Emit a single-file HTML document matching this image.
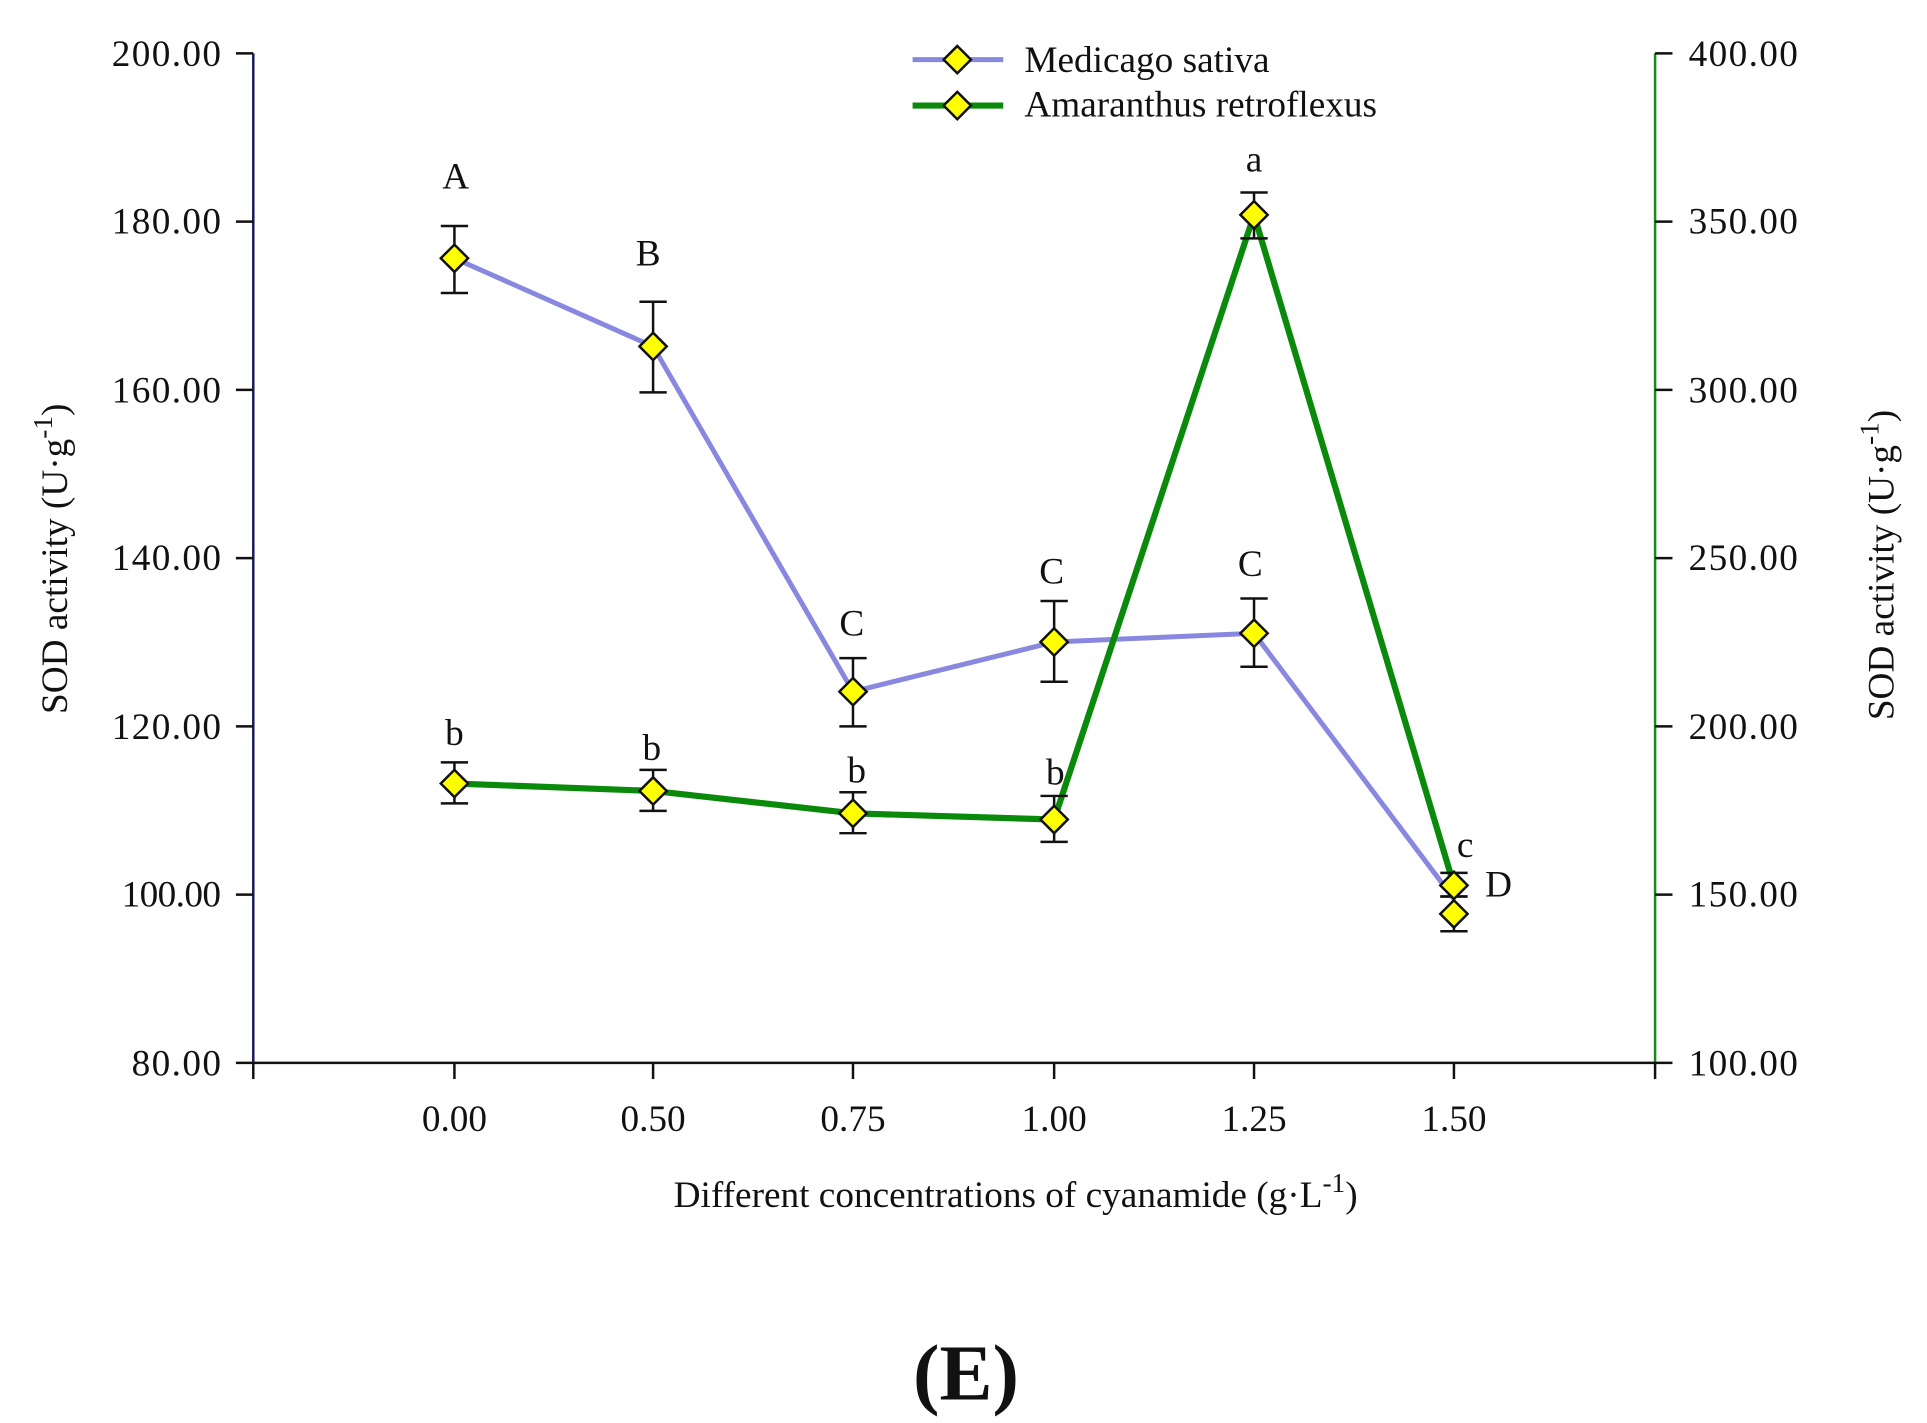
<!DOCTYPE html>
<html><head><meta charset="utf-8"><style>html,body{margin:0;padding:0;background:#fff;}svg{display:block}</style></head>
<body>
<svg width="1927" height="1423" viewBox="0 0 1552 1146" preserveAspectRatio="none" xmlns="http://www.w3.org/2000/svg" font-family="'Liberation Serif', serif" fill="#111">
<defs>
<g id="d"><path d="M0,-11 L11,0 L0,11 L-11,0 Z" fill="#ffff00" stroke="#111" stroke-width="2"/></g>
</defs>
<line x1="204" y1="43" x2="204" y2="857" stroke="#1a1a5a" stroke-width="2"/>
<line x1="1333" y1="43" x2="1333" y2="857" stroke="#1a8a1a" stroke-width="2"/>
<line x1="204" y1="856" x2="1333" y2="856" stroke="#111" stroke-width="2"/>
<g stroke="#111" stroke-width="2">
<line x1="190" y1="43" x2="204" y2="43"/><line x1="190" y1="178.5" x2="204" y2="178.5"/><line x1="190" y1="314" x2="204" y2="314"/><line x1="190" y1="449.5" x2="204" y2="449.5"/><line x1="190" y1="585" x2="204" y2="585"/><line x1="190" y1="720.5" x2="204" y2="720.5"/><line x1="190" y1="856" x2="204" y2="856"/>
<line x1="1333" y1="43" x2="1347" y2="43"/><line x1="1333" y1="178.5" x2="1347" y2="178.5"/><line x1="1333" y1="314" x2="1347" y2="314"/><line x1="1333" y1="449.5" x2="1347" y2="449.5"/><line x1="1333" y1="585" x2="1347" y2="585"/><line x1="1333" y1="720.5" x2="1347" y2="720.5"/><line x1="1333" y1="856" x2="1347" y2="856"/>
<line x1="204" y1="856" x2="204" y2="869"/><line x1="366" y1="856" x2="366" y2="869"/><line x1="526" y1="856" x2="526" y2="869"/><line x1="687" y1="856" x2="687" y2="869"/><line x1="849" y1="856" x2="849" y2="869"/><line x1="1010" y1="856" x2="1010" y2="869"/><line x1="1171" y1="856" x2="1171" y2="869"/><line x1="1333" y1="856" x2="1333" y2="869"/>
</g>
<g font-size="30" text-anchor="end">
<text x="178" y="53" textLength="88">200.00</text><text x="178" y="188" textLength="88">180.00</text><text x="178" y="324" textLength="88">160.00</text><text x="178" y="459" textLength="88">140.00</text><text x="178" y="595" textLength="88">120.00</text><text x="178" y="730" textLength="80">100.00</text><text x="178" y="866" textLength="72">80.00</text>
</g>
<g font-size="30">
<text x="1360" y="53" textLength="88">400.00</text><text x="1360" y="188" textLength="88">350.00</text><text x="1360" y="324" textLength="88">300.00</text><text x="1360" y="459" textLength="88">250.00</text><text x="1360" y="595" textLength="88">200.00</text><text x="1360" y="730" textLength="88">150.00</text><text x="1360" y="866" textLength="88">100.00</text>
</g>
<g font-size="30" text-anchor="middle">
<text x="366" y="911">0.00</text><text x="526" y="911">0.50</text><text x="687" y="911">0.75</text><text x="849" y="911">1.00</text><text x="1010" y="911">1.25</text><text x="1171" y="911">1.50</text>
</g>
<text x="818" y="972" font-size="30" text-anchor="middle">Different concentrations of cyanamide (g·L<tspan dy="-12" font-size="22">-1</tspan><tspan dy="12">)</tspan></text>
<text transform="translate(54,450) rotate(-90)" font-size="30" text-anchor="middle">SOD activity (U·g<tspan dy="-12" font-size="22">-1</tspan><tspan dy="12">)</tspan></text>
<text transform="translate(1525,455) rotate(-90)" font-size="30" text-anchor="middle">SOD activity (U·g<tspan dy="-12" font-size="22">-1</tspan><tspan dy="12">)</tspan></text>
<text x="778" y="1127" font-size="64" font-weight="bold" text-anchor="middle">(E)</text>
<line x1="735" y1="48" x2="808" y2="48" stroke="#8888dd" stroke-width="4"/><use href="#d" x="771" y="48"/>
<text x="825" y="58" font-size="30">Medicago sativa</text>
<line x1="735" y1="85" x2="808" y2="85" stroke="#0a8a0a" stroke-width="5"/><use href="#d" x="771" y="85"/>
<text x="825" y="94" font-size="30">Amaranthus retroflexus</text>
<polyline points="366,208 526,279 687,557 849,517 1010,510 1171,724" fill="none" stroke="#8888e0" stroke-width="4"/>
<polyline points="366,631 526,637 687,655 849,660 1010,173 1171,713" fill="none" stroke="#0a8a0a" stroke-width="5"/>
<g stroke="#111" stroke-width="2" fill="none">
<path d="M366,182V236M355,182H377M355,236H377"/>
<path d="M526,243V316M515,243H537M515,316H537"/>
<path d="M687,530V585M676,530H698M676,585H698"/>
<path d="M849,484V549M838,484H860M838,549H860"/>
<path d="M1010,482V537M999,482H1021M999,537H1021"/>
<path d="M1171,722V750M1160,722H1182M1160,750H1182"/>
<path d="M366,614V647M355,614H377M355,647H377"/>
<path d="M526,620V653M515,620H537M515,653H537"/>
<path d="M687,638V671M676,638H698M676,671H698"/>
<path d="M849,641V678M838,641H860M838,678H860"/>
<path d="M1010,155V192M999,155H1021M999,192H1021"/>
<path d="M1171,703V722M1160,703H1182M1160,722H1182"/>
</g>
<use href="#d" x="366" y="208"/><use href="#d" x="526" y="279"/><use href="#d" x="687" y="557"/><use href="#d" x="849" y="517"/><use href="#d" x="1010" y="510"/><use href="#d" x="1171" y="736"/>
<use href="#d" x="366" y="631"/><use href="#d" x="526" y="637"/><use href="#d" x="687" y="655"/><use href="#d" x="849" y="660"/><use href="#d" x="1010" y="173"/><use href="#d" x="1171" y="713"/>
<g font-size="30" text-anchor="middle">
<text x="367" y="152">A</text><text x="522" y="214">B</text><text x="686" y="512">C</text><text x="847" y="470">C</text><text x="1007" y="464">C</text><text x="1207" y="722">D</text>
<text x="366" y="600">b</text><text x="525" y="612">b</text><text x="690" y="630">b</text><text x="850" y="632">b</text><text x="1010" y="138">a</text><text x="1180" y="690">c</text>
</g>
</svg>
</body></html>
